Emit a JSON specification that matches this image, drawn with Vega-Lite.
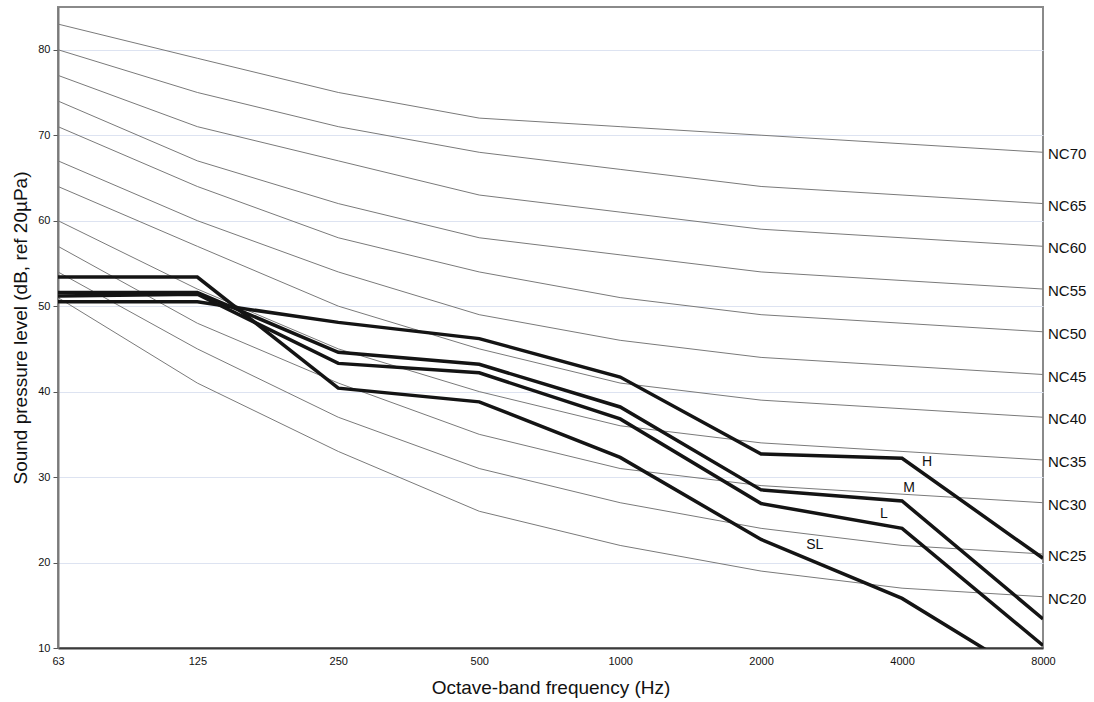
{
  "$schema": "https://vega.github.io/schema/vega-lite/v6.json",
  "width": 985,
  "height": 641,
  "autosize": "none",
  "padding": {"left": 58, "top": 7, "right": 51, "bottom": 54},
  "background": "white",
  "config": {
    "font": "Liberation Sans",
    "view": {"stroke": "#8a8a8a", "strokeWidth": 2}
  },
  "datasets": {
    "curves": [
      {"curve": "NC70", "kind": "NC", "freq": 63, "level": 83}, {"curve": "NC70", "kind": "NC", "freq": 125, "level": 79}, {"curve": "NC70", "kind": "NC", "freq": 250, "level": 75}, {"curve": "NC70", "kind": "NC", "freq": 500, "level": 72}, {"curve": "NC70", "kind": "NC", "freq": 1000, "level": 71}, {"curve": "NC70", "kind": "NC", "freq": 2000, "level": 70}, {"curve": "NC70", "kind": "NC", "freq": 4000, "level": 69}, {"curve": "NC70", "kind": "NC", "freq": 8000, "level": 68},
      {"curve": "NC65", "kind": "NC", "freq": 63, "level": 80}, {"curve": "NC65", "kind": "NC", "freq": 125, "level": 75}, {"curve": "NC65", "kind": "NC", "freq": 250, "level": 71}, {"curve": "NC65", "kind": "NC", "freq": 500, "level": 68}, {"curve": "NC65", "kind": "NC", "freq": 1000, "level": 66}, {"curve": "NC65", "kind": "NC", "freq": 2000, "level": 64}, {"curve": "NC65", "kind": "NC", "freq": 4000, "level": 63}, {"curve": "NC65", "kind": "NC", "freq": 8000, "level": 62},
      {"curve": "NC60", "kind": "NC", "freq": 63, "level": 77}, {"curve": "NC60", "kind": "NC", "freq": 125, "level": 71}, {"curve": "NC60", "kind": "NC", "freq": 250, "level": 67}, {"curve": "NC60", "kind": "NC", "freq": 500, "level": 63}, {"curve": "NC60", "kind": "NC", "freq": 1000, "level": 61}, {"curve": "NC60", "kind": "NC", "freq": 2000, "level": 59}, {"curve": "NC60", "kind": "NC", "freq": 4000, "level": 58}, {"curve": "NC60", "kind": "NC", "freq": 8000, "level": 57},
      {"curve": "NC55", "kind": "NC", "freq": 63, "level": 74}, {"curve": "NC55", "kind": "NC", "freq": 125, "level": 67}, {"curve": "NC55", "kind": "NC", "freq": 250, "level": 62}, {"curve": "NC55", "kind": "NC", "freq": 500, "level": 58}, {"curve": "NC55", "kind": "NC", "freq": 1000, "level": 56}, {"curve": "NC55", "kind": "NC", "freq": 2000, "level": 54}, {"curve": "NC55", "kind": "NC", "freq": 4000, "level": 53}, {"curve": "NC55", "kind": "NC", "freq": 8000, "level": 52},
      {"curve": "NC50", "kind": "NC", "freq": 63, "level": 71}, {"curve": "NC50", "kind": "NC", "freq": 125, "level": 64}, {"curve": "NC50", "kind": "NC", "freq": 250, "level": 58}, {"curve": "NC50", "kind": "NC", "freq": 500, "level": 54}, {"curve": "NC50", "kind": "NC", "freq": 1000, "level": 51}, {"curve": "NC50", "kind": "NC", "freq": 2000, "level": 49}, {"curve": "NC50", "kind": "NC", "freq": 4000, "level": 48}, {"curve": "NC50", "kind": "NC", "freq": 8000, "level": 47},
      {"curve": "NC45", "kind": "NC", "freq": 63, "level": 67}, {"curve": "NC45", "kind": "NC", "freq": 125, "level": 60}, {"curve": "NC45", "kind": "NC", "freq": 250, "level": 54}, {"curve": "NC45", "kind": "NC", "freq": 500, "level": 49}, {"curve": "NC45", "kind": "NC", "freq": 1000, "level": 46}, {"curve": "NC45", "kind": "NC", "freq": 2000, "level": 44}, {"curve": "NC45", "kind": "NC", "freq": 4000, "level": 43}, {"curve": "NC45", "kind": "NC", "freq": 8000, "level": 42},
      {"curve": "NC40", "kind": "NC", "freq": 63, "level": 64}, {"curve": "NC40", "kind": "NC", "freq": 125, "level": 57}, {"curve": "NC40", "kind": "NC", "freq": 250, "level": 50}, {"curve": "NC40", "kind": "NC", "freq": 500, "level": 45}, {"curve": "NC40", "kind": "NC", "freq": 1000, "level": 41}, {"curve": "NC40", "kind": "NC", "freq": 2000, "level": 39}, {"curve": "NC40", "kind": "NC", "freq": 4000, "level": 38}, {"curve": "NC40", "kind": "NC", "freq": 8000, "level": 37},
      {"curve": "NC35", "kind": "NC", "freq": 63, "level": 60}, {"curve": "NC35", "kind": "NC", "freq": 125, "level": 52}, {"curve": "NC35", "kind": "NC", "freq": 250, "level": 45}, {"curve": "NC35", "kind": "NC", "freq": 500, "level": 40}, {"curve": "NC35", "kind": "NC", "freq": 1000, "level": 36}, {"curve": "NC35", "kind": "NC", "freq": 2000, "level": 34}, {"curve": "NC35", "kind": "NC", "freq": 4000, "level": 33}, {"curve": "NC35", "kind": "NC", "freq": 8000, "level": 32},
      {"curve": "NC30", "kind": "NC", "freq": 63, "level": 57}, {"curve": "NC30", "kind": "NC", "freq": 125, "level": 48}, {"curve": "NC30", "kind": "NC", "freq": 250, "level": 41}, {"curve": "NC30", "kind": "NC", "freq": 500, "level": 35}, {"curve": "NC30", "kind": "NC", "freq": 1000, "level": 31}, {"curve": "NC30", "kind": "NC", "freq": 2000, "level": 29}, {"curve": "NC30", "kind": "NC", "freq": 4000, "level": 28}, {"curve": "NC30", "kind": "NC", "freq": 8000, "level": 27},
      {"curve": "NC25", "kind": "NC", "freq": 63, "level": 54}, {"curve": "NC25", "kind": "NC", "freq": 125, "level": 45}, {"curve": "NC25", "kind": "NC", "freq": 250, "level": 37}, {"curve": "NC25", "kind": "NC", "freq": 500, "level": 31}, {"curve": "NC25", "kind": "NC", "freq": 1000, "level": 27}, {"curve": "NC25", "kind": "NC", "freq": 2000, "level": 24}, {"curve": "NC25", "kind": "NC", "freq": 4000, "level": 22}, {"curve": "NC25", "kind": "NC", "freq": 8000, "level": 21},
      {"curve": "NC20", "kind": "NC", "freq": 63, "level": 51}, {"curve": "NC20", "kind": "NC", "freq": 125, "level": 41}, {"curve": "NC20", "kind": "NC", "freq": 250, "level": 33}, {"curve": "NC20", "kind": "NC", "freq": 500, "level": 26}, {"curve": "NC20", "kind": "NC", "freq": 1000, "level": 22}, {"curve": "NC20", "kind": "NC", "freq": 2000, "level": 19}, {"curve": "NC20", "kind": "NC", "freq": 4000, "level": 17}, {"curve": "NC20", "kind": "NC", "freq": 8000, "level": 16},
      {"curve": "H", "kind": "meas", "freq": 63, "level": 50.5}, {"curve": "H", "kind": "meas", "freq": 125, "level": 50.5}, {"curve": "H", "kind": "meas", "freq": 250, "level": 48.1}, {"curve": "H", "kind": "meas", "freq": 500, "level": 46.2}, {"curve": "H", "kind": "meas", "freq": 1000, "level": 41.7}, {"curve": "H", "kind": "meas", "freq": 2000, "level": 32.7}, {"curve": "H", "kind": "meas", "freq": 4000, "level": 32.2}, {"curve": "H", "kind": "meas", "freq": 8000, "level": 20.5},
      {"curve": "M", "kind": "meas", "freq": 63, "level": 51.6}, {"curve": "M", "kind": "meas", "freq": 125, "level": 51.6}, {"curve": "M", "kind": "meas", "freq": 250, "level": 44.6}, {"curve": "M", "kind": "meas", "freq": 500, "level": 43.2}, {"curve": "M", "kind": "meas", "freq": 1000, "level": 38.2}, {"curve": "M", "kind": "meas", "freq": 2000, "level": 28.5}, {"curve": "M", "kind": "meas", "freq": 4000, "level": 27.2}, {"curve": "M", "kind": "meas", "freq": 8000, "level": 13.4},
      {"curve": "L", "kind": "meas", "freq": 63, "level": 51.2}, {"curve": "L", "kind": "meas", "freq": 125, "level": 51.4}, {"curve": "L", "kind": "meas", "freq": 250, "level": 43.3}, {"curve": "L", "kind": "meas", "freq": 500, "level": 42.2}, {"curve": "L", "kind": "meas", "freq": 1000, "level": 36.8}, {"curve": "L", "kind": "meas", "freq": 2000, "level": 26.9}, {"curve": "L", "kind": "meas", "freq": 4000, "level": 24.0}, {"curve": "L", "kind": "meas", "freq": 8000, "level": 10.3},
      {"curve": "SL", "kind": "meas", "freq": 63, "level": 53.4}, {"curve": "SL", "kind": "meas", "freq": 125, "level": 53.4}, {"curve": "SL", "kind": "meas", "freq": 250, "level": 40.4}, {"curve": "SL", "kind": "meas", "freq": 500, "level": 38.8}, {"curve": "SL", "kind": "meas", "freq": 1000, "level": 32.3}, {"curve": "SL", "kind": "meas", "freq": 2000, "level": 22.7}, {"curve": "SL", "kind": "meas", "freq": 4000, "level": 15.8}, {"curve": "SL", "kind": "meas", "freq": 8000, "level": 5.7}
    ],
    "labels": [
      {"text": "H", "freq": 4525, "level": 31.8},
      {"text": "M", "freq": 4140, "level": 28.7},
      {"text": "L", "freq": 3660, "level": 25.7},
      {"text": "SL", "freq": 2604, "level": 22.0}
    ]
  },
  "layer": [
    {
      "data": {"name": "curves"},
      "transform": [{"filter": "datum.kind === 'NC'"}],
      "mark": {"type": "line", "color": "#7a7a7a", "strokeWidth": 1, "clip": true},
      "encoding": {
        "x": {
          "field": "freq", "type": "quantitative",
          "scale": {"type": "log", "base": 2, "domain": [63, 8000], "nice": false, "zero": false},
          "axis": {
            "values": [63, 125, 250, 500, 1000, 2000, 4000, 8000],
            "format": "d",
            "title": "Octave-band frequency (Hz)",
            "titleFontSize": 19, "titleFontWeight": "normal", "titleColor": "#111",
            "titlePadding": 12,
            "labelFontSize": 11, "labelColor": "#111", "labelPadding": 7,
            "ticks": false, "grid": false,
            "domainColor": "#3a3a3a", "domainWidth": 2,
            "labelFlush": false, "labelOverlap": false
          }
        },
        "y": {
          "field": "level", "type": "quantitative",
          "scale": {"domain": [10, 85], "nice": false, "zero": false},
          "axis": {
            "values": [10, 20, 30, 40, 50, 60, 70, 80],
            "title": "Sound pressure level (dB, ref 20µPa)",
            "titleFontSize": 19, "titleFontWeight": "normal", "titleColor": "#111",
            "titlePadding": 7,
            "labelFontSize": 11, "labelColor": "#111", "labelPadding": 3,
            "tickSize": 5, "tickColor": "#555",
            "grid": true, "gridColor": "#dde3f1", "gridWidth": 1,
            "domainColor": "#7a7a7a", "domainWidth": 2
          }
        },
        "detail": {"field": "curve"}
      }
    },
    {
      "data": {"name": "curves"},
      "transform": [{"filter": "datum.kind === 'meas'"}],
      "mark": {"type": "line", "color": "#141414", "strokeWidth": 3.5, "clip": true, "strokeJoin": "miter"},
      "encoding": {
        "x": {"field": "freq", "type": "quantitative"},
        "y": {"field": "level", "type": "quantitative"},
        "detail": {"field": "curve"}
      }
    },
    {
      "data": {"name": "curves"},
      "transform": [{"filter": "datum.kind === 'NC' && datum.freq === 8000"}],
      "mark": {"type": "text", "align": "left", "baseline": "middle", "dx": 5, "dy": 2, "fontSize": 15, "color": "#111"},
      "encoding": {
        "x": {"field": "freq", "type": "quantitative"},
        "y": {"field": "level", "type": "quantitative"},
        "text": {"field": "curve"}
      }
    },
    {
      "data": {"name": "labels"},
      "mark": {"type": "text", "align": "center", "baseline": "middle", "fontSize": 14, "color": "#111"},
      "encoding": {
        "x": {"field": "freq", "type": "quantitative"},
        "y": {"field": "level", "type": "quantitative"},
        "text": {"field": "text"}
      }
    }
  ]
}
